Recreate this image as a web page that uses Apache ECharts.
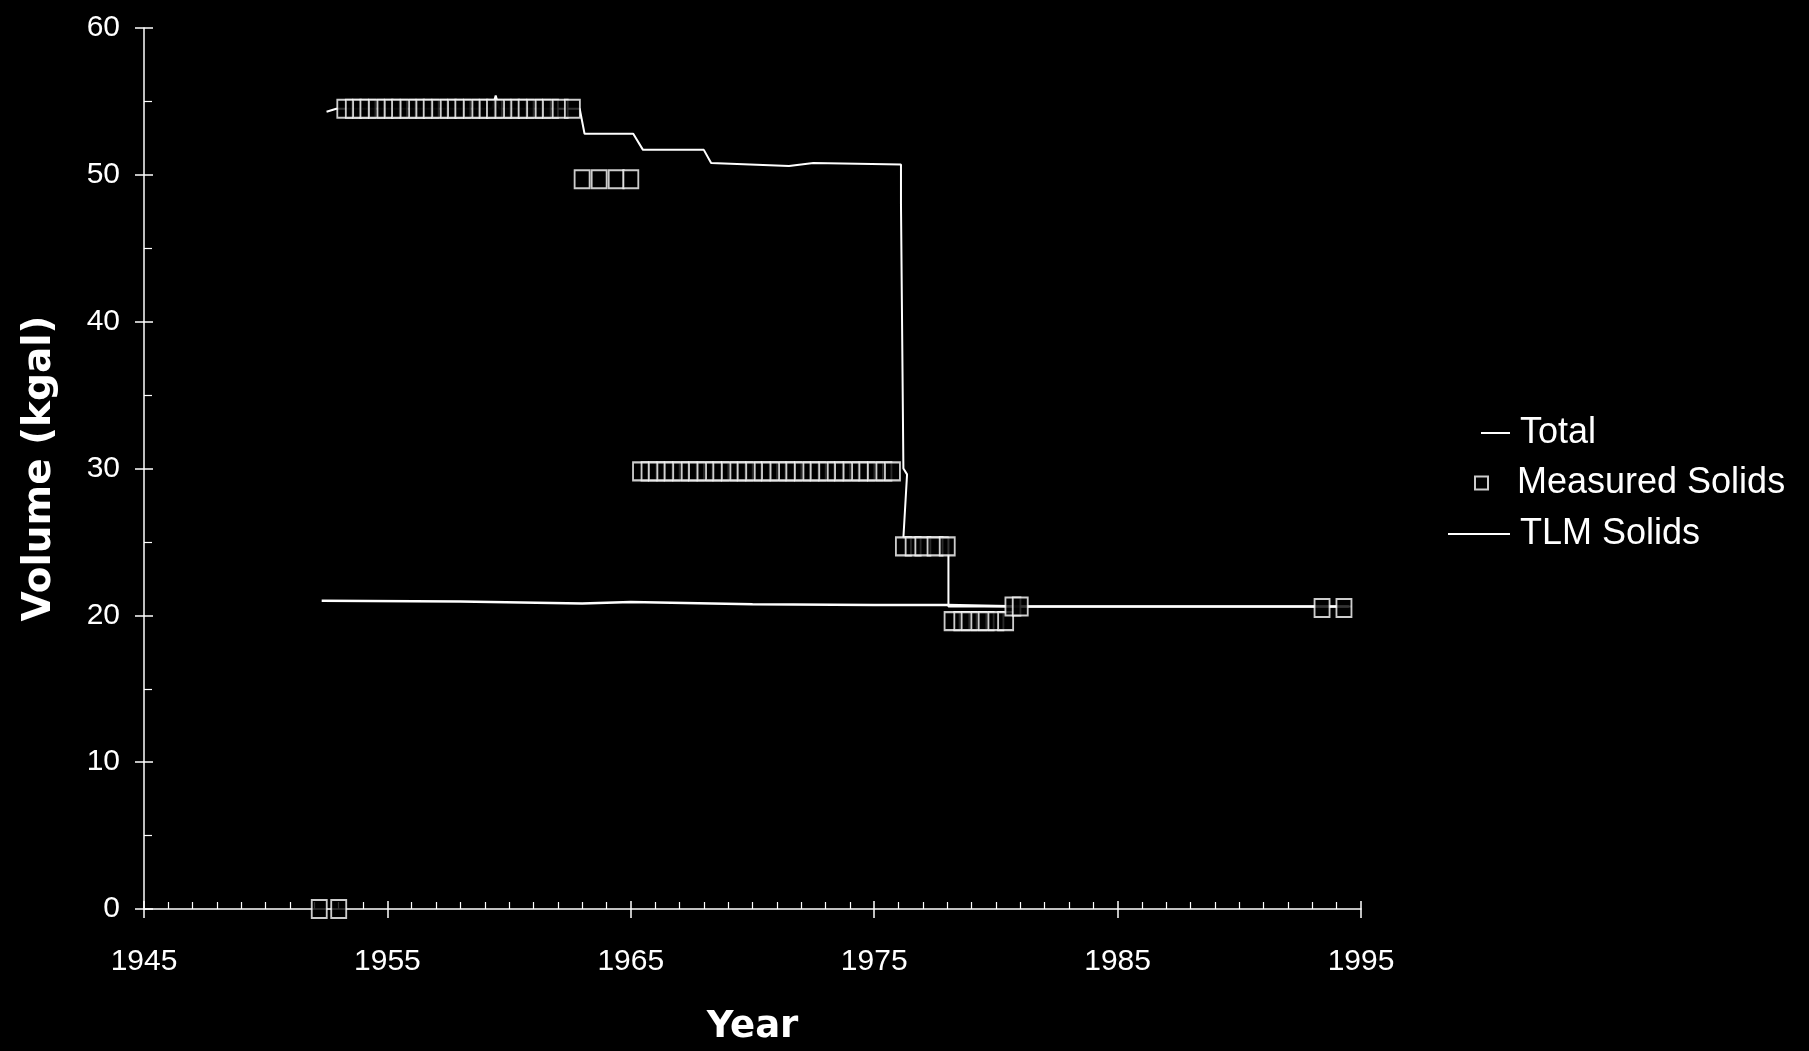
<!DOCTYPE html>
<html>
<head>
<meta charset="utf-8">
<script src="https://cdn.jsdelivr.net/npm/echarts@6/dist/echarts.min.js"></script>
<style>
  html, body { margin: 0; padding: 0; background: #000; }
  #chart { width: 1809px; height: 1051px; }
</style>
</head>
<body>
<div id="chart"></div>
<script>
// Axis ranges and tick steps
const yearRange = [1945, 1995];
const volumeRange = [0, 60];
const yearStep = 10;
const volumeStep = 10;

// Total tank volume (kgal) over time: [year, volume]
const totalVolume = [
  [1952.5, 54.3], [1952.9, 54.5], [1959.3, 54.5], [1959.45, 55.4], [1959.6, 54.5],
  [1962.9, 54.5], [1963.1, 52.8], [1965.1, 52.8], [1965.5, 51.7], [1968.0, 51.7],
  [1968.3, 50.8], [1971.5, 50.6], [1972.5, 50.8], [1976.1, 50.7], [1976.1, 48.0],
  [1976.2, 30.0], [1976.35, 29.6], [1976.2, 25.3], [1978.05, 25.3], [1978.05, 20.6],
  [1994.6, 20.6]
];

// Measured solids level readings: [year, volume]
const measuredSolids = [
  [1952.2, 0], [1953.0, 0],
  [1953.25, 54.5], [1953.6, 54.5], [1953.9, 54.5], [1954.2, 54.5], [1954.55, 54.5],
  [1954.9, 54.5], [1955.2, 54.5], [1955.5, 54.5], [1955.85, 54.5], [1956.2, 54.5],
  [1956.5, 54.5], [1956.8, 54.5], [1957.15, 54.5], [1957.5, 54.5], [1957.8, 54.5],
  [1958.1, 54.5], [1958.45, 54.5], [1958.8, 54.5], [1959.1, 54.5], [1959.4, 54.5],
  [1959.75, 54.5], [1960.1, 54.5], [1960.4, 54.5], [1960.7, 54.5], [1961.05, 54.5],
  [1961.4, 54.5], [1961.7, 54.5], [1962.1, 54.5], [1962.6, 54.5],
  [1963.0, 49.7], [1963.7, 49.7], [1964.4, 49.7], [1965.0, 49.7],
  [1965.4, 29.8], [1965.75, 29.8], [1966.05, 29.8], [1966.4, 29.8], [1966.7, 29.8],
  [1967.05, 29.8], [1967.4, 29.8], [1967.7, 29.8], [1968.05, 29.8], [1968.4, 29.8],
  [1968.7, 29.8], [1969.05, 29.8], [1969.4, 29.8], [1969.7, 29.8], [1970.05, 29.8],
  [1970.4, 29.8], [1970.7, 29.8], [1971.05, 29.8], [1971.4, 29.8], [1971.7, 29.8],
  [1972.05, 29.8], [1972.4, 29.8], [1972.7, 29.8], [1973.05, 29.8], [1973.4, 29.8],
  [1973.7, 29.8], [1974.05, 29.8], [1974.4, 29.8], [1974.7, 29.8], [1975.05, 29.8],
  [1975.4, 29.8], [1975.75, 29.8],
  [1976.2, 24.7], [1976.6, 24.7], [1977.0, 24.7], [1977.5, 24.7], [1978.0, 24.7],
  [1978.2, 19.6], [1978.6, 19.6], [1978.9, 19.6], [1979.3, 19.6], [1979.6, 19.6],
  [1980.0, 19.6], [1980.4, 19.6],
  [1980.7, 20.6], [1981.0, 20.6],
  [1993.4, 20.5], [1994.3, 20.5]
];

// TLM solids estimate: [year, volume]
const tlmSolids = [
  [1952.3, 21.0], [1958.0, 20.95], [1963.0, 20.8], [1965.0, 20.9], [1970.0, 20.75],
  [1975.0, 20.7], [1978.0, 20.7], [1981.0, 20.6], [1994.5, 20.6]
];

const white = '#ffffff';
const tickFont = { color: white, fontFamily: 'Liberation Sans', fontSize: 30 };
const titleFont = { color: white, fontFamily: 'DejaVu Sans', fontWeight: 'bold', fontSize: 37 };
const yTitleFont = { color: white, fontFamily: 'DejaVu Sans', fontWeight: 'bold', fontSize: 39 };
const legendFont = { color: white, fontFamily: 'Liberation Sans', fontSize: 36, lineHeight: 38 };

const yearFormat = v => String(v);

const option = {
  backgroundColor: '#000',
  animation: false,
  grid: {
    left: 144, right: 448, top: 28, bottom: 142,
    containLabel: false, outerBoundsMode: 'none'
  },
  legend: [
    {
      data: ['Total'], left: 1476, top: 409, icon: 'rect',
      itemWidth: 29, itemHeight: 2, textStyle: Object.assign({ padding: [0, 0, 0, 5] }, legendFont),
      selectedMode: false
    },
    {
      data: ['Measured Solids'], left: 1469, top: 459, icon: 'rect',
      itemWidth: 13, itemHeight: 13, textStyle: Object.assign({ padding: [0, 0, 0, 24] }, legendFont),
      selectedMode: false
    },
    {
      data: ['TLM Solids'], left: 1443, top: 510, icon: 'rect',
      itemWidth: 62, itemHeight: 2, textStyle: Object.assign({ padding: [0, 0, 0, 5] }, legendFont),
      selectedMode: false
    }
  ],
  xAxis: [
    {
      type: 'value', min: yearRange[0], max: yearRange[1], interval: yearStep,
      name: 'Year', nameLocation: 'middle', nameGap: 100, nameTextStyle: titleFont,
      axisLine: { show: true, onZero: false, lineStyle: { color: white, width: 1.5 } },
      axisTick: { show: true, inside: false, length: 9, lineStyle: { color: white, width: 1.5 } },
      axisLabel: Object.assign({ margin: 38, formatter: yearFormat }, tickFont),
      splitLine: { show: false }
    },
    {
      type: 'value', min: yearRange[0], max: yearRange[1], interval: yearStep,
      position: 'bottom', offset: 0,
      axisLine: { show: false, onZero: false },
      axisTick: { show: true, inside: true, length: 8, lineStyle: { color: white, width: 1.5 } },
      minorTick: { show: true, splitNumber: 10, length: 7, lineStyle: { color: white, width: 1.2 } },
      axisLabel: { show: false },
      splitLine: { show: false }
    }
  ],
  yAxis: [
    {
      type: 'value', min: volumeRange[0], max: volumeRange[1], interval: volumeStep,
      name: 'Volume (kgal)', nameLocation: 'middle', nameGap: 85, nameRotate: 90,
      nameTextStyle: yTitleFont,
      axisLine: { show: true, onZero: false, lineStyle: { color: white, width: 1.5 } },
      axisTick: { show: true, inside: false, length: 9, lineStyle: { color: white, width: 1.5 } },
      axisLabel: Object.assign({ margin: 24 }, tickFont),
      splitLine: { show: false }
    },
    {
      type: 'value', min: volumeRange[0], max: volumeRange[1], interval: volumeStep,
      position: 'left', offset: 0,
      axisLine: { show: false, onZero: false },
      axisTick: { show: true, inside: true, length: 9, lineStyle: { color: white, width: 1.5 } },
      minorTick: { show: true, splitNumber: 2, length: 8, lineStyle: { color: white, width: 1.2 } },
      axisLabel: { show: false },
      splitLine: { show: false }
    }
  ],
  series: [
    {
      name: 'Total', type: 'line', data: totalVolume,
      xAxisIndex: 0, yAxisIndex: 0,
      showSymbol: false, symbol: 'none',
      lineStyle: { color: white, width: 2 }, itemStyle: { color: white },
      z: 2
    },
    {
      name: 'TLM Solids', type: 'line', data: tlmSolids,
      xAxisIndex: 0, yAxisIndex: 0,
      showSymbol: false, symbol: 'none',
      lineStyle: { color: white, width: 2.5 }, itemStyle: { color: white },
      z: 2
    },
    {
      name: 'Measured Solids', type: 'scatter', data: measuredSolids,
      xAxisIndex: 0, yAxisIndex: 0,
      symbol: 'rect', symbolSize: [15, 18],
      itemStyle: { color: '#000', borderColor: white, borderWidth: 2 },
      z: 3
    }
  ]
};

const chart = echarts.init(document.getElementById('chart'), null, { renderer: 'canvas' });
chart.setOption(option);
</script>
</body>
</html>
